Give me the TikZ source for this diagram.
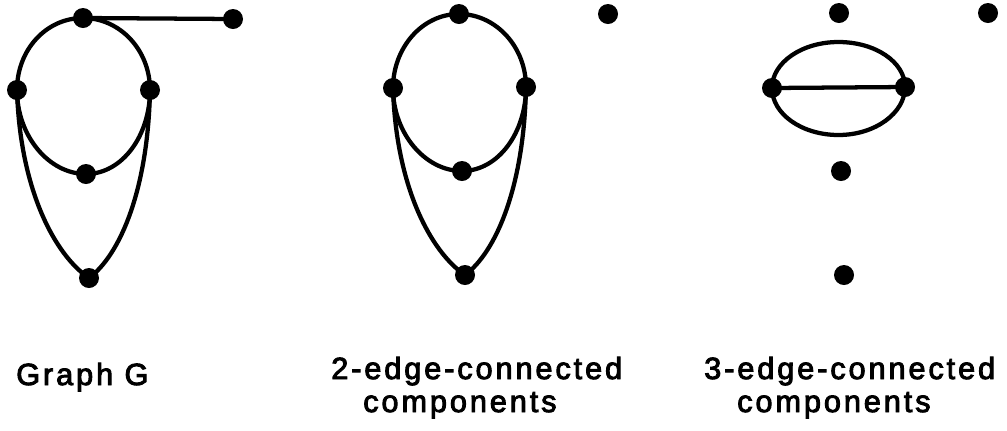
\documentclass[tikz,border=0pt]{standalone}
\usepackage{fontspec}
\setmainfont{Liberation Sans}[LetterSpace=9.5,FakeBold=3]
\begin{document}
\begin{tikzpicture}[x=0.75pt,y=-0.75pt,
  dot/.style={circle,fill=black,inner sep=0pt,minimum size=15pt},
  edge/.style={draw=black,line width=3.2pt},
  lab/.style={anchor=base west,inner sep=0pt,font=\fontsize{23}{26}\selectfont}]
\useasboundingbox (0,0) rectangle (1007,430);
% ---------- Graph G ----------
\node[dot] (t1) at (83,18) {};
\node[dot] (i1) at (233,19) {};
\node[dot] (l1) at (17,90) {};
\node[dot] (r1) at (150,90) {};
\node[dot] (m1) at (86,174) {};
\node[dot] (b1) at (89,278) {};
\draw[edge] (t1.center) -- (i1.center);
\draw[edge] (l1.center) .. controls (17,50) and (46,18) .. (t1.center);
\draw[edge] (t1.center) .. controls (120,18) and (150,50) .. (r1.center);
\draw[edge] (l1.center) .. controls (17,136) and (49,174) .. (m1.center);
\draw[edge] (m1.center) .. controls (122,174) and (150,136) .. (r1.center);
\draw[edge] (l1.center) .. controls (20,190) and (55,255) .. (b1.center);
\draw[edge] (r1.center) .. controls (148,190) and (120,255) .. (b1.center);
% ---------- 2-edge-connected components ----------
\node[dot] (t2) at (459,14) {};
\node[dot] (i2) at (608,14) {};
\node[dot] (l2) at (393,88) {};
\node[dot] (r2) at (526,87) {};
\node[dot] (m2) at (462,171) {};
\node[dot] (b2) at (465,275) {};
\draw[edge] (l2.center) .. controls (393,48) and (422,14) .. (t2.center);
\draw[edge] (t2.center) .. controls (496,14) and (526,47) .. (r2.center);
\draw[edge] (l2.center) .. controls (393,133) and (425,171) .. (m2.center);
\draw[edge] (m2.center) .. controls (498,171) and (526,133) .. (r2.center);
\draw[edge] (l2.center) .. controls (396,187) and (431,252) .. (b2.center);
\draw[edge] (r2.center) .. controls (524,187) and (496,252) .. (b2.center);
% ---------- 3-edge-connected components ----------
\node[dot] (t3) at (839,13) {};
\node[dot] (i3) at (988,13) {};
\node[dot] (l3) at (772,88) {};
\node[dot] (r3) at (905,87) {};
\node[dot] (m3) at (841,171) {};
\node[dot] (b3) at (844,275) {};
\draw[edge] (l3.center) -- (r3.center);
\draw[edge] (l3.center) .. controls (772,62.6) and (801.8,42) .. (838.5,42)
                        .. controls (875.2,42) and (905,62) .. (r3.center);
\draw[edge] (l3.center) .. controls (772,114) and (801.8,135) .. (838.5,135)
                        .. controls (875.2,135) and (905,113) .. (r3.center);
% ---------- labels ----------
\node[lab] (lg) at (16,385) {Graph G};
\node[lab] (l2a) at (331,379) {2-edge-connected};
\node[lab] (l2b) at (363,412) {components};
\node[lab] (l3a) at (704,379) {3-edge-connected};
\node[lab] (l3b) at (737,412) {components};
\end{tikzpicture}
\end{document}
